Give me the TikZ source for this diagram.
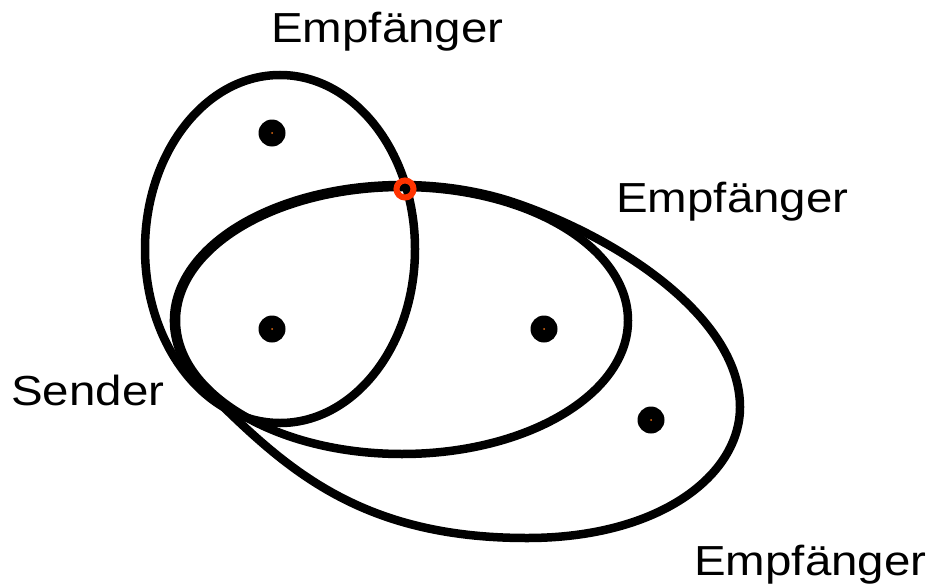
\documentclass[tikz,border=0pt]{standalone}
\usepackage{fontspec}
\setmainfont{Liberation Sans}
\usetikzlibrary{calc}
\definecolor{ringred}{RGB}{255,51,0}
\definecolor{dotcore}{RGB}{230,110,20}
\begin{document}
\begin{tikzpicture}[x=1pt,y=-1pt,
  curve/.style={draw=black,line width=8.5pt},
  dot/.style={circle,fill=black,minimum size=27pt,inner sep=0pt},
  lbl/.style={font=\fontsize{42}{48}\selectfont, anchor=base west, inner sep=0pt, xscale=1.13}]
\useasboundingbox (0,0) rectangle (931,586);
% ellipses
\coordinate (c1) at (280,249);
\coordinate (c2) at (402,320.5);
\draw[curve] (c1) ellipse[x radius=135, y radius=174];
\draw[curve] (c2) ellipse[x radius=226, y radius=133.5];
\coordinate (j) at ($(c2)+(150:228 and 135.5)$);
\draw[curve, line join=round] (j) arc[start angle=150,end angle=300,x radius=228,y radius=135.5]
  .. controls (624.6,240.5) and (740,320) .. (740,407)
  .. controls (740,475) and (660,538) .. (527,538)
  .. controls (357,538) and (283,466) .. (j);
% dots
\node[dot] (d1) at (272,133) {};
\node[dot] (d2) at (272,329) {};
\node[dot] (d3) at (544,329) {};
\node[dot] (d4) at (651,420) {};
\foreach \d in {d1,d2,d3,d4} \fill[dotcore] (\d) circle (1);
% red ring
\draw[ringred, line width=6pt] (405,189) circle (8.5);
% labels
\node[lbl] (r1) at (271,43) {Empfänger};
\node[lbl] (r2) at (616,212) {Empfänger};
\node[lbl] (r3) at (694,575) {Empfänger};
\node[lbl] (s) at (11,405) {Sender};
\end{tikzpicture}
\end{document}
